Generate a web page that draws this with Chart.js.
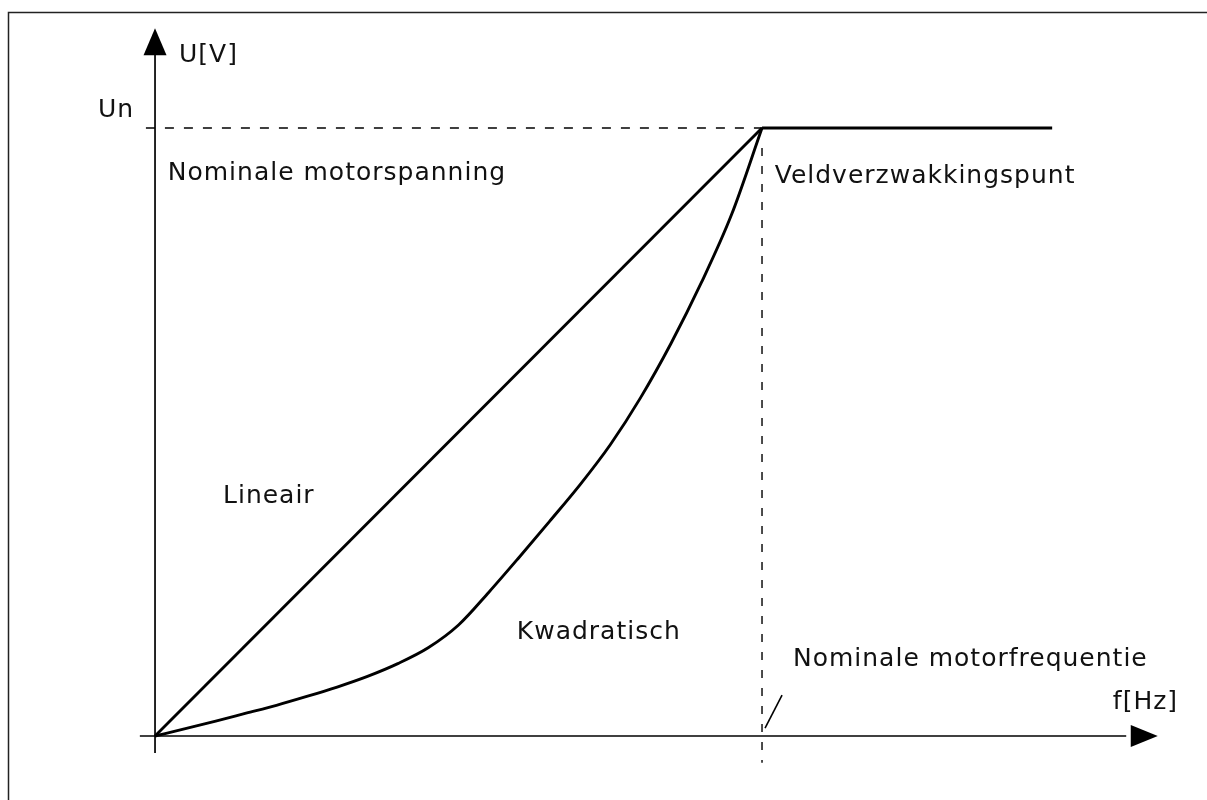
<!DOCTYPE html>
<html>
<head>
<meta charset="utf-8">
<script src="https://cdn.jsdelivr.net/npm/chart.js@4/dist/chart.umd.min.js"></script>
<style>
  html, body { margin: 0; padding: 0; background: #ffffff; }
  #wrap { width: 1207px; height: 800px; }
</style>
</head>
<body>
<div id="wrap"><canvas id="c" width="1207" height="800"></canvas></div>
<script>
// ---- data (percent of nominal frequency / nominal voltage) ----
const linearX = [0, 100];
const linearY = [0, 100];
const quadX = [0, 5, 10, 15, 20, 25, 30, 35, 40, 45, 50, 55, 60, 65, 70, 75, 80, 85, 90, 95, 100];
const quadY = [0, 1.2, 2.45, 3.75, 5.05, 6.5, 8.05, 9.8, 11.9, 14.5, 18.25, 23.65, 29.4, 35.3, 41.3, 47.9, 55.65, 64.55, 74.55, 85.8, 100];
const flatX = [100, 147.8];
const flatY = [100, 100];
const nominalVoltage = 100;   // Un
const nominalFrequency = 100; // field weakening point
const unDashX = [-1.5, 100];
const fnDashY = [96.7, -4.4];
const slashX = [100.5, 103.3];
const slashY = [1.3, 6.7];
const xAxisRange = [-2.5, 165.2];
const yAxisRange = [-2.8, 116.4];

const labels = ['U[V]', 'Un', 'Nominale motorspanning', 'Veldverzwakkingspunt', 'Lineair', 'Kwadratisch', 'Nominale motorfrequentie', 'f[Hz]'];
const labelX = [3.95, -9.4, 2.1, 102.1, 11.2, 59.6, 105.1, 157.8];
const labelY = [110.9, 101.8, 91.4, 90.95, 38.3, 16.0, 11.5, 4.4];

const pts = (xs, ys) => xs.map((x, i) => ({x: x, y: ys[i]}));

const annotate = {
  id: 'annotate',
  beforeDatasetsDraw(chart) {
    const ctx = chart.ctx;
    ctx.save();
    ctx.strokeStyle = '#222';
    ctx.lineWidth = 1.5;
    ctx.strokeRect(8.5, 12.5, 1300, 900);
    ctx.restore();
  },
  afterDatasetsDraw(chart) {
    const ctx = chart.ctx;
    const xs = chart.scales.x, ys = chart.scales.y;
    ctx.save();
    ctx.fillStyle = '#000';
    const yx = xs.getPixelForValue(0);
    const yTip = ys.getPixelForValue(yAxisRange[1]);
    ctx.beginPath();
    ctx.moveTo(yx, yTip);
    ctx.lineTo(yx - 11.5, yTip + 27);
    ctx.lineTo(yx + 11.5, yTip + 27);
    ctx.closePath();
    ctx.fill();
    const xy = ys.getPixelForValue(0);
    const xTip = xs.getPixelForValue(xAxisRange[1]);
    ctx.beginPath();
    ctx.moveTo(xTip, xy);
    ctx.lineTo(xTip - 27, xy - 11);
    ctx.lineTo(xTip - 27, xy + 11);
    ctx.closePath();
    ctx.fill();
    ctx.font = '25px "DejaVu Sans"';
    try { ctx.letterSpacing = '1px'; } catch (e) {}
    ctx.textBaseline = 'alphabetic';
    ctx.textAlign = 'left';
    ctx.fillStyle = '#111';
    labels.forEach((t, i) => {
      ctx.fillText(t, xs.getPixelForValue(labelX[i]), ys.getPixelForValue(labelY[i]));
    });
    ctx.restore();
  }
};

const line = (data, w, dash) => ({
  data: data, showLine: true, pointRadius: 0, borderColor: '#000', borderWidth: w,
  borderDash: dash || [], fill: false, tension: 0
});

new Chart(document.getElementById('c'), {
  type: 'scatter',
  data: {
    datasets: [
      line(pts(xAxisRange.map(v => Math.min(v, 160)), [0, 0]), 1.7),
      line(pts([0, 0], [yAxisRange[0], 112]), 1.7),
      line(pts(unDashX, [nominalVoltage, nominalVoltage]), 1.4, [9, 10]),
      line(pts([nominalFrequency, nominalFrequency], fnDashY), 1.4, [8, 10]),
      line(pts(slashX, slashY), 1.6),
      line(pts(linearX, linearY), 2.9),
      Object.assign(line(pts(quadX, quadY), 2.9), { cubicInterpolationMode: 'monotone', tension: 0.4 }),
      line(pts(flatX, flatY), 2.9)
    ]
  },
  options: {
    responsive: false,
    devicePixelRatio: 1,
    animation: false,
    layout: { padding: 0 },
    plugins: { legend: { display: false }, tooltip: { enabled: false }, title: { display: false } },
    scales: {
      x: { type: 'linear', display: false, min: -25.54, max: 173.31 },
      y: { type: 'linear', display: false, min: -10.53, max: 121.05 }
    }
  },
  plugins: [annotate]
});
</script>
</body>
</html>
